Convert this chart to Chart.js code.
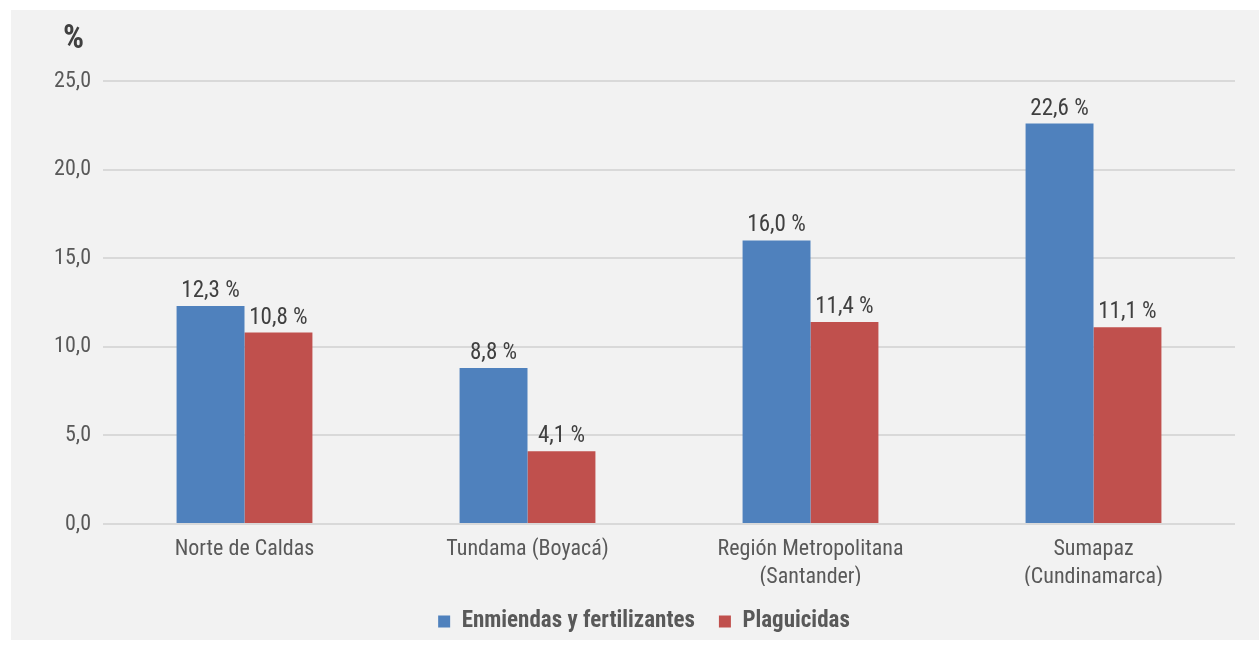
<!DOCTYPE html>
<html>
<head>
<meta charset="utf-8">
<script src="https://cdn.jsdelivr.net/npm/chart.js@4"></script>
<style>
  html, body { margin: 0; padding: 0; background: #ffffff; overflow: hidden; }
  #wrap { position: absolute; left: 11px; top: 10px; width: 1248px; height: 630px; background: #f2f2f2; overflow: hidden; }
  #grafico { position: absolute; left: 0; top: 0; }
</style>
</head>
<body>
<div id="wrap"><canvas id="grafico" width="1248" height="633"></canvas></div>
<script>
// datos del gráfico
var regiones = [["Norte de Caldas"], ["Tundama (Boyacá)"], ["Región Metropolitana", "(Santander)"], ["Sumapaz", "(Cundinamarca)"]];
var enmiendas = [12.3, 8.8, 16.0, 22.6];
var plaguicidas = [10.8, 4.1, 11.4, 11.1];
var series = ["Enmiendas y fertilizantes", "Plaguicidas"];
var fuente = "'Roboto Condensed', 'Liberation Sans Narrow', sans-serif";

function coma(v) { return v.toFixed(1).replace(".", ","); }

// etiquetas sobre las barras y el "%" arriba
var etiquetas = {
  id: "etiquetas",
  afterLayout: function (chart) {
    // correr un poco la leyenda a la derecha como en el original
    chart.legend.left += 21;
    chart.legend.right += 21;
  },
  afterDatasetsDraw: function (chart) {
    var ctx = chart.ctx;
    ctx.save();
    ctx.font = "23px " + fuente;
    ctx.fillStyle = "#404040";
    ctx.textAlign = "center";
    ctx.textBaseline = "alphabetic";
    chart.data.datasets.forEach(function (ds, i) {
      chart.getDatasetMeta(i).data.forEach(function (bar, j) {
        ctx.fillText(coma(ds.data[j]) + " %", bar.x, bar.y - 9);
      });
    });
    ctx.font = "bold 33px " + fuente;
    ctx.textAlign = "left";
    ctx.fillText("%", 52, 38);
    ctx.restore();
  }
};

var ctx = document.getElementById("grafico");
new Chart(ctx, {
  type: "bar",
  data: {
    labels: regiones,
    datasets: [
      { label: series[0], data: enmiendas, backgroundColor: "#4f81bd" },
      { label: series[1], data: plaguicidas, backgroundColor: "#c0504d" }
    ]
  },
  options: {
    responsive: false,
    animation: false,
    layout: { padding: { top: 71, right: 24, left: 0, bottom: 0 } },
    datasets: { bar: { categoryPercentage: 0.48, barPercentage: 1 } },
    plugins: {
      legend: {
        position: "bottom",
        labels: {
          color: "#595959",
          font: { family: fuente, size: 23, weight: "bold" },
          boxWidth: 12,
          boxHeight: 12,
          padding: 24
        }
      },
      tooltip: { enabled: false }
    },
    scales: {
      x: {
        grid: { display: false },
        border: { display: false },
        ticks: { color: "#595959", font: { family: fuente, size: 22, lineHeight: 1.25 }, padding: 4 },
        afterFit: function (s) { s.height = 62; }
      },
      y: {
        min: 0,
        max: 25,
        ticks: {
          stepSize: 5,
          color: "#595959",
          font: { family: fuente, size: 22 },
          padding: 12,
          callback: function (v) { return coma(v); }
        },
        grid: { color: "#d9d9d9", lineWidth: 2, drawTicks: false },
        border: { display: false },
        afterFit: function (s) { s.width = 92; }
      }
    }
  },
  plugins: [etiquetas]
});
</script>
</body>
</html>
